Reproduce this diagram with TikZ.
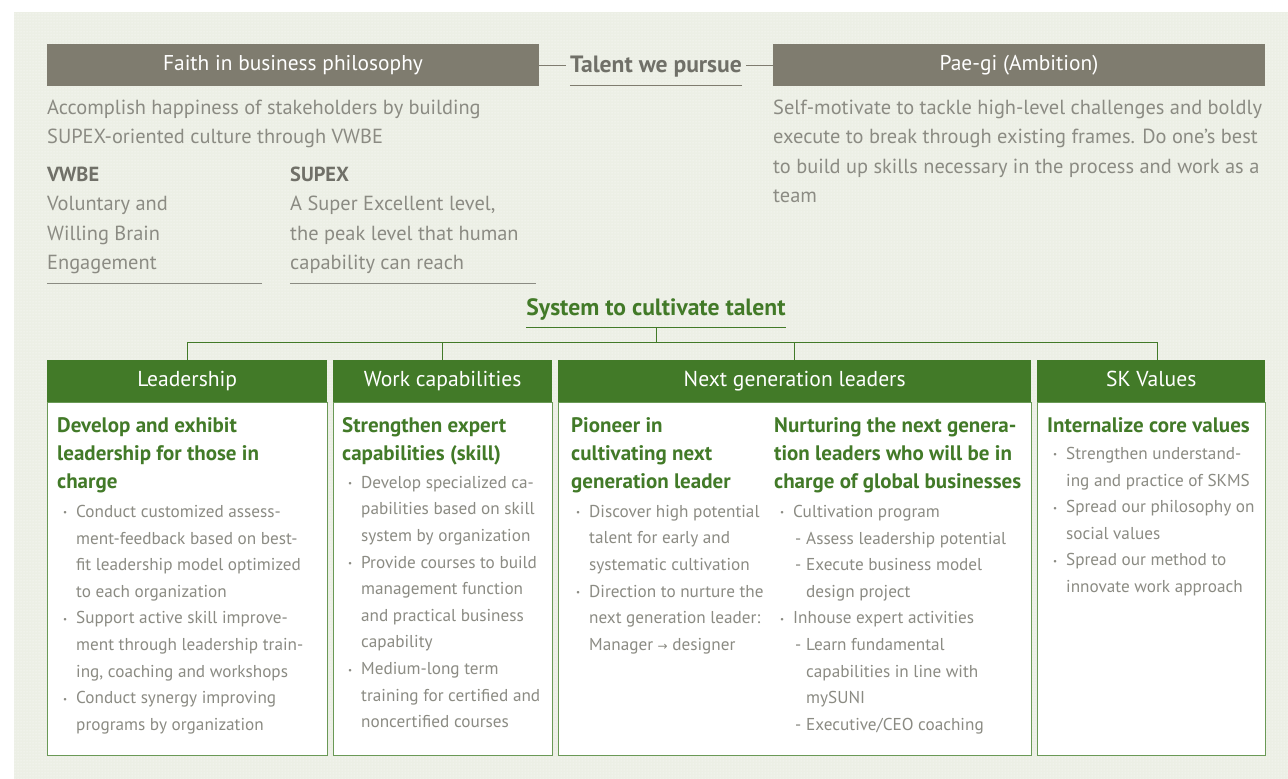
\documentclass[tikz,border=0pt]{standalone}
\usepackage{fontspec}
\setmainfont{PT Sans}
\newfontfamily\arrowfont{DejaVu Sans}
\usetikzlibrary{patterns}
\definecolor{bgc}{HTML}{ECEFE5}
\definecolor{hdgray}{HTML}{7F7C6F}
\definecolor{txtgray}{HTML}{8B8B83}
\definecolor{boldgray}{HTML}{707068}
\definecolor{grn}{HTML}{427A28}
\definecolor{boxgrn}{HTML}{6A9956}
\def\bul{\llap{\raisebox{1.5pt}{\fontsize{9}{9}\selectfont\textbullet}\hspace{9pt}}}
\def\sbi{\hspace*{13pt}\llap{-\hspace{5pt}}}
\def\sbc{\hspace*{13pt}}

\begin{document}
\begin{tikzpicture}[x=1pt,y=-1pt,
  bar/.style={fill=hdgray, text=white, minimum height=42pt, inner sep=0pt, text height=15pt, text depth=4pt, font=\fontsize{21.4}{24}\selectfont},
  ghead/.style={fill=grn, text=white, minimum height=42pt, inner sep=0pt, text height=15pt, text depth=4pt, anchor=north west, font=\fontsize{21.6}{24}\selectfont},
  body/.style={draw=boxgrn, line width=1.2pt, fill=white, inner sep=0pt, anchor=north west},
  uptext/.style={anchor=north west, inner sep=0pt, align=left, text=txtgray, font=\fontsize{20.4}{29.5}\selectfont},
  ttl/.style={anchor=north west, inner sep=0pt, align=left, text=grn, font=\bfseries\fontsize{21}{28.2}\selectfont},
  items/.style={anchor=north west, inner sep=0pt, align=left, text=txtgray, font=\fontsize{17.2}{26.6}\selectfont}]
			%%%%% START %%%%%
			
			\useasboundingbox (0,0) rectangle (1288,779);
			\fill[bgc] (14,12) rectangle (1288,779);
			\fill[pattern=dots, pattern color=white] (14,12) rectangle (1288,779);
			
			% talent we pursue
			\node[bar, minimum width=492pt] (faith) at (293,65) {Faith in business philosophy};
			\node[bar, minimum width=492pt] (paegi) at (1019,65) {Pae-gi (Ambition)};
			\node[inner xsep=0pt, text=boldgray, font=\bfseries\fontsize{23.6}{26}\selectfont] (pursue) at (656,67) {Talent we pursue};
			\draw[hdgray, line width=0.9pt] (faith.east) -- ([xshift=-4pt]pursue.west |- faith.east);
			\draw[hdgray, line width=0.9pt] ([xshift=4pt]pursue.east |- paegi.west) -- (paegi.west);
			\draw[hdgray, line width=0.9pt] ([yshift=-12.5pt]pursue.base west) -- ([yshift=-12.5pt]pursue.base east);
			
			\node[uptext] (faithtxt) at (47,99.5) {Accomplish happiness of stakeholders by building\\SUPEX-oriented culture through VWBE};
			\node[uptext] (vwbe) at (47,166.5) {{\bfseries\color{boldgray}VWBE}\\Voluntary and\\Willing Brain\\Engagement};
			\node[uptext] (supex) at (290,166.5) {{\bfseries\color{boldgray}SUPEX}\\A Super Excellent level,\\the peak level that human\\capability can reach};
			\draw[txtgray, line width=0.9pt] (47,283) -- (262,283);
			\draw[txtgray, line width=0.9pt] (290,283) -- (536,283);
			\node[uptext] (paegitxt) at (773,99.5) {Self-motivate to tackle high-level challenges and boldly\\execute to break through existing frames. Do one’s best\\to build up skills necessary in the process and work as a\\team};
			
			% system to cultivate talent
			\node[inner xsep=0pt, text=grn, font=\bfseries\fontsize{23.6}{26}\selectfont] (sys) at (656,309) {System to cultivate talent};
			\draw[grn, line width=0.9pt] ([yshift=-12.5pt]sys.base west) -- ([yshift=-12.5pt]sys.base east);
			\coordinate (hub) at (656,342);
			
			\node[body, minimum width=280pt, minimum height=353pt] (leadbox) at (47,402) {};
			\node[body, minimum width=219pt, minimum height=353pt] (workbox) at (333,402) {};
			\node[body, minimum width=473pt, minimum height=353pt] (nextbox) at (558,402) {};
			\node[body, minimum width=228pt, minimum height=353pt] (skvbox) at (1037,402) {};
			
			\node[ghead, minimum width=280pt] (lead) at (47,360) {Leadership};
			\node[ghead, minimum width=219pt] (work) at (333,360) {Work capabilities};
			\node[ghead, minimum width=473pt] (next) at (558,360) {Next generation leaders};
			\node[ghead, minimum width=228pt] (skv) at (1037,360) {SK Values};
			
			\draw[grn, line width=0.9pt] ([yshift=-12.5pt]sys.base) -- (hub);
			\draw[grn, line width=0.9pt] (lead.north) |- ([xshift=6pt]skv.north |- hub) -- ([xshift=6pt]skv.north);
			\draw[grn, line width=0.9pt] (work.north) -- (work.north |- hub);
			\draw[grn, line width=0.9pt] (next.north) -- (next.north |- hub);
			
			% leadership
			\node[ttl] (leadttl) at (57,417) {Develop and exhibit\\leadership for those in\\charge};
			\node[items] (leaditems) at (76,505) {\bul Conduct customized assess-\\ment-feedback based on best-\\fit leadership model optimized\\to each organization\\\bul Support active skill improve-\\ment through leadership train-\\ing, coaching and workshops\\\bul Conduct synergy improving\\programs by organization};
			
			% work capabilities
			\node[ttl] (workttl) at (342,417) {Strengthen expert\\capabilities (skill)};
			\node[items] (workitems) at (361,476) {\bul Develop specialized ca-\\pabilities based on skill\\system by organization\\\bul Provide courses to build\\management function\\and practical business\\capability\\\bul Medium-long term\\training for certified and\\noncertified courses};
			
			% next generation leaders
			\node[ttl] (nextttl) at (571,417) {Pioneer in\\cultivating next\\generation leader};
			\node[items] (nextitems) at (589,505) {\bul Discover high potential\\talent for early and\\systematic cultivation\\\bul Direction to nurture the\\next generation leader:\\Manager {\arrowfont\fontsize{12}{12}\selectfont →} designer};
			\node[ttl] (globttl) at (774,417) {Nurturing the next genera-\\tion leaders who will be in\\charge of global businesses};
			\node[items] (globitems) at (793,505) {\bul Cultivation program\\\sbi Assess leadership potential\\\sbi Execute business model\\\sbc design project\\\bul Inhouse expert activities\\\sbi Learn fundamental\\\sbc capabilities in line with\\\sbc mySUNI\\\sbi Executive/CEO coaching};
			
			% sk values
			\node[ttl] (skvttl) at (1047,417) {Internalize core values};
			\node[items] (skvitems) at (1066,447) {\bul Strengthen understand-\\ing and practice of SKMS\\\bul Spread our philosophy on\\social values\\\bul Spread our method to\\innovate work approach};
			
			%%%%% END %%%%%
\end{tikzpicture}
\end{document}
